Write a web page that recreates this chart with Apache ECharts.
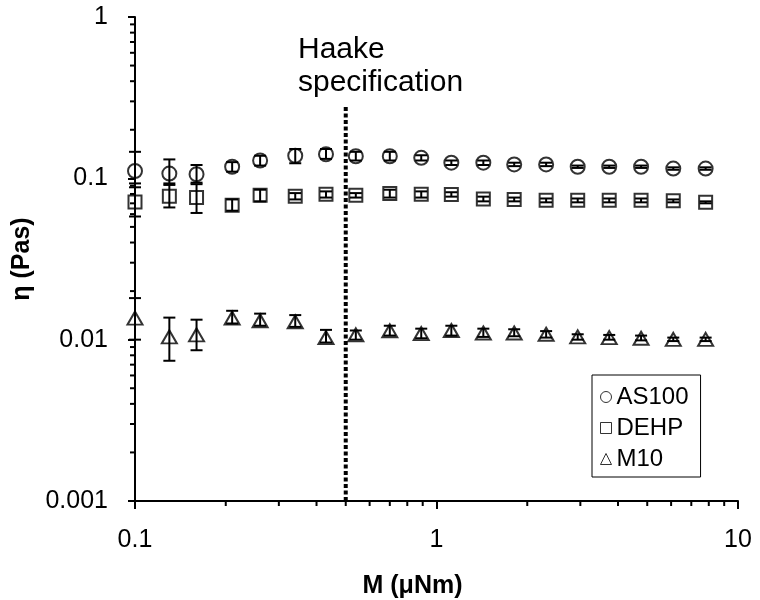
<!DOCTYPE html>
<html>
<head>
<meta charset="utf-8">
<script src="https://cdn.jsdelivr.net/npm/echarts@6/dist/echarts.min.js"></script>
<style>
  html, body { margin: 0; padding: 0; background: #fff; }
  #chart { width: 760px; height: 600px; }
</style>
</head>
<body>
<div id="chart"></div>
<script>
// Torque sweep: applied torque M (µNm)
const torque = [0.1, 0.13, 0.16, 0.21, 0.26, 0.34, 0.43, 0.54, 0.70, 0.89, 1.12, 1.43, 1.81, 2.31, 2.94, 3.74, 4.77, 6.10, 7.81];

// Viscosity (Pa s) with lower / upper error limits
const as100 = [0.111, 0.107, 0.106, 0.118, 0.129, 0.138, 0.141, 0.137, 0.137, 0.134, 0.125, 0.125, 0.122, 0.122, 0.118, 0.118, 0.118, 0.115, 0.115];
const as100Lo = [0.093, 0.093, 0.094, 0.110, 0.120, 0.124, 0.132, 0.129, 0.129, 0.129, 0.121, 0.121, 0.119, 0.119, 0.116, 0.116, 0.116, 0.113, 0.113];
const as100Hi = [0.146, 0.131, 0.121, 0.126, 0.138, 0.152, 0.152, 0.146, 0.146, 0.139, 0.129, 0.129, 0.125, 0.125, 0.120, 0.120, 0.120, 0.117, 0.117];

const dehp = [0.0714, 0.0775, 0.076, 0.068, 0.0786, 0.0775, 0.0797, 0.0786, 0.0805, 0.0797, 0.0794, 0.0745, 0.0739, 0.0731, 0.0731, 0.0731, 0.0731, 0.0725, 0.0712];
const dehpLo = [0.058, 0.066, 0.061, 0.063, 0.072, 0.074, 0.076, 0.076, 0.076, 0.076, 0.077, 0.072, 0.072, 0.071, 0.071, 0.071, 0.071, 0.071, 0.070];
const dehpHi = [0.088, 0.091, 0.092, 0.074, 0.085, 0.081, 0.083, 0.081, 0.085, 0.083, 0.082, 0.077, 0.076, 0.075, 0.075, 0.075, 0.075, 0.074, 0.072];

const m10 = [0.0136, 0.0104, 0.0107, 0.0136, 0.0131, 0.0129, 0.0103, 0.0107, 0.01135, 0.0109, 0.0114, 0.0110, 0.0110, 0.0108, 0.0104, 0.0103, 0.0102, 0.01005, 0.01005];
const m10Lo = [0.0100, 0.0074, 0.0086, 0.0126, 0.0122, 0.0120, 0.0096, 0.0100, 0.0106, 0.0102, 0.0106, 0.0104, 0.0105, 0.0103, 0.0100, 0.0100, 0.0099, 0.0098, 0.0098];
const m10Hi = [0.0181, 0.0137, 0.0133, 0.0151, 0.0145, 0.0142, 0.0115, 0.0114, 0.0122, 0.0117, 0.0122, 0.0117, 0.0116, 0.0113, 0.0108, 0.0107, 0.0106, 0.0103, 0.0103];

// Instrument specification limit and the extent of its marker line
const haakeLimit = 0.5;
const haakeLineSpan = [0.001, 0.28];

// Axis ranges and minor tick positions
const xRange = [0.1, 10];
const yRange = [0.001, 1];
const xMinorTicks = [0.2, 0.3, 0.4, 0.5, 0.6, 0.7, 0.8, 0.9, 2, 3, 4, 5, 6, 7, 8, 9];
const yMinorTicks = [0.002, 0.003, 0.004, 0.005, 0.006, 0.007, 0.008, 0.009,
                     0.02, 0.03, 0.04, 0.05, 0.06, 0.07, 0.08, 0.09,
                     0.2, 0.3, 0.4, 0.5, 0.6, 0.7, 0.8, 0.9];

const FONT = '"Liberation Sans", Arial, sans-serif';

function pts(ys) { return torque.map((x, i) => [x, ys[i]]); }
function bars(lo, hi) { return torque.map((x, i) => [x, lo[i], hi[i]]); }

function errorBarItem(params, api) {
  const x = api.value(0);
  const top = api.coord([x, api.value(2)]);
  const bot = api.coord([x, api.value(1)]);
  const cap = 6;
  const style = { stroke: '#000', lineWidth: 2 };
  return {
    type: 'group',
    children: [
      { type: 'line', shape: { x1: top[0], y1: top[1], x2: bot[0], y2: bot[1] }, style },
      { type: 'line', shape: { x1: top[0] - cap, y1: top[1], x2: top[0] + cap, y2: top[1] }, style },
      { type: 'line', shape: { x1: bot[0] - cap, y1: bot[1], x2: bot[0] + cap, y2: bot[1] }, style }
    ]
  };
}

const hollow = { color: 'rgba(0,0,0,0)', borderColor: '#000', borderWidth: 2 };
const legendIcon = { color: 'rgba(0,0,0,0)', borderColor: '#000', borderWidth: 1 };

const chart = echarts.init(document.getElementById('chart'), null, { renderer: 'canvas' });

chart.setOption({
  backgroundColor: '#fff',
  animation: false,
  textStyle: { fontFamily: FONT, color: '#000' },
  grid: { left: 135, right: 22, top: 17, bottom: 99, containLabel: false, outerBoundsMode: 'none' },
  xAxis: {
    type: 'log', logBase: 10, min: xRange[0], max: xRange[1],
    name: 'M (\u03bcNm)', nameLocation: 'middle', nameGap: 73,
    nameTextStyle: { fontFamily: FONT, fontSize: 25, fontWeight: 'bold', color: '#000',
                     padding: [0, 48, 0, 0] },
    axisLine: { lineStyle: { color: '#000', width: 2 } },
    axisTick: { length: 8, lineStyle: { color: '#000', width: 2 } },
    axisLabel: { fontFamily: FONT, fontSize: 25, color: '#000', margin: 27,
                 formatter: v => String(v) },
    splitLine: { show: false }
  },
  yAxis: {
    type: 'log', logBase: 10, min: yRange[0], max: yRange[1],
    name: '\u03b7 (Pas)', nameLocation: 'middle', nameGap: 100, nameRotate: 90,
    nameTextStyle: { fontFamily: FONT, fontSize: 25, fontWeight: 'bold', color: '#000' },
    axisLine: { lineStyle: { color: '#000', width: 2 } },
    axisTick: { length: 7, lineStyle: { color: '#000', width: 2 } },
    axisLabel: { fontFamily: FONT, fontSize: 25, color: '#000', margin: 27,
                 formatter: v => String(v) },
    splitLine: { show: false }
  },
  legend: {
    orient: 'vertical', left: 592, top: 375,
    borderColor: '#000', borderWidth: 1, padding: [10, 12, 6, 8],
    itemWidth: 11, itemHeight: 11, itemGap: 7,
    textStyle: { fontFamily: FONT, fontSize: 24, color: '#000' },
    data: [
      { name: 'AS100', icon: 'circle', itemStyle: legendIcon },
      { name: 'DEHP', icon: 'rect', itemStyle: legendIcon },
      { name: 'M10', icon: 'triangle', itemStyle: legendIcon }
    ]
  },
  graphic: [{
    type: 'text', left: 298, top: 33,
    style: { text: 'Haake\nspecification', font: '30px ' + FONT, fill: '#000', lineHeight: 33 }
  }],
  series: [
    { name: 'AS100', type: 'scatter', symbol: 'circle', symbolSize: 14, itemStyle: hollow, data: pts(as100), z: 3 },
    { name: 'DEHP', type: 'scatter', symbol: 'rect', symbolSize: 13, itemStyle: hollow, data: pts(dehp), z: 3 },
    { name: 'M10', type: 'scatter', symbol: 'triangle', symbolSize: [15, 13], itemStyle: hollow, data: pts(m10), z: 3 },
    { type: 'custom', renderItem: errorBarItem, data: bars(as100Lo, as100Hi), encode: { x: 0, y: [1, 2] }, z: 4, silent: true },
    { type: 'custom', renderItem: errorBarItem, data: bars(dehpLo, dehpHi), encode: { x: 0, y: [1, 2] }, z: 4, silent: true },
    { type: 'custom', renderItem: errorBarItem, data: bars(m10Lo, m10Hi), encode: { x: 0, y: [1, 2] }, z: 4, silent: true },
    {
      type: 'line', data: haakeLineSpan.map(y => [haakeLimit, y]), symbol: 'none',
      lineStyle: { color: '#000', width: 4, type: [4, 2.5] }, z: 2, silent: true
    },
    {
      // minor ticks along the bottom axis
      type: 'custom', clip: false, silent: true, z: 5,
      data: xMinorTicks.map(v => [v, yRange[0]]), encode: { x: 0, y: 1 },
      renderItem: (params, api) => {
        const p = api.coord([api.value(0), yRange[0]]);
        return { type: 'line', shape: { x1: p[0], y1: p[1], x2: p[0], y2: p[1] + 5 },
                 style: { stroke: '#000', lineWidth: 2 } };
      }
    },
    {
      // minor ticks along the left axis
      type: 'custom', clip: false, silent: true, z: 5,
      data: yMinorTicks.map(v => [xRange[0], v]), encode: { x: 0, y: 1 },
      renderItem: (params, api) => {
        const p = api.coord([xRange[0], api.value(1)]);
        return { type: 'line', shape: { x1: p[0] - 5, y1: p[1], x2: p[0], y2: p[1] },
                 style: { stroke: '#000', lineWidth: 2 } };
      }
    }
  ]
});
</script>
</body>
</html>
